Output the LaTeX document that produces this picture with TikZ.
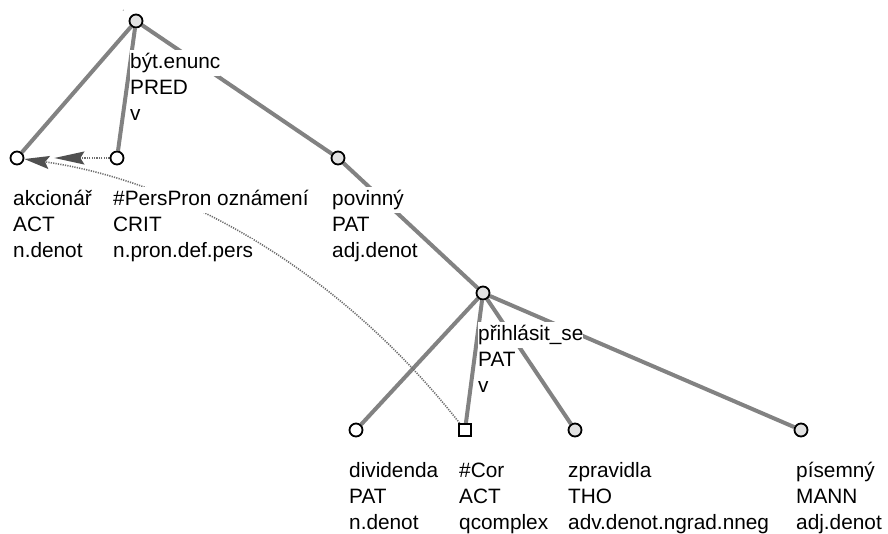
\documentclass[tikz,border=0pt]{standalone}
\usepackage{fontspec}
\setmainfont{Liberation Sans}
\usetikzlibrary{arrows.meta,backgrounds}
\setlength{\fboxsep}{0pt}
\newcommand{\lbox}[1]{\colorbox{white}{\strut #1}}
\definecolor{edgegray}{HTML}{828282}
\definecolor{nodegray}{HTML}{E2E2E2}
\definecolor{tipgray}{HTML}{505050}
\definecolor{corefgray}{HTML}{6E6E6E}
\tikzset{
  tnode/.style={circle, draw=black, line width=1.8pt, fill=white, minimum size=13pt, inner sep=0pt},
  tnodeg/.style={tnode, fill=nodegray},
  tsquare/.style={rectangle, draw=black, line width=1.8pt, fill=white, minimum size=12pt, inner sep=0pt},
  tedge/.style={draw=edgegray, line width=4pt},
  coref/.style={draw=corefgray, line width=1.6pt, dash pattern=on 1.2pt off 1.2pt},
  tlabel/.style={anchor=north west, inner sep=0pt, align=left, font=\fontsize{20.8}{26}\selectfont},
}
\begin{document}
\begin{tikzpicture}[x=1pt, y=-1pt]
\useasboundingbox (0,0) rectangle (888,533);
% tree nodes
\node[tnodeg] (root) at (136,21) {};
\node[tnode] (akc) at (17,158) {};
\node[tnode] (pers) at (117,158) {};
\node[tnodeg] (pov) at (338,158) {};
\node[tnodeg] (prih) at (483,293) {};
\node[tnode] (div) at (356,430) {};
\node[tsquare] (cor) at (465,430) {};
\node[tnodeg] (zpr) at (575,430) {};
\node[tnodeg] (pis) at (801,430) {};
\coordinate (top) at (123,10);
% edges and coreference, behind the labels
\begin{pgfonlayer}{background}
\draw[draw=edgegray, line width=1pt, shorten >=9pt] (top) -- (root);
\draw[tedge] (root) -- (akc);
\draw[tedge] (root) -- (pers);
\draw[tedge] (root) -- (pov);
\draw[tedge] (pov) -- (prih);
\draw[tedge] (prih) -- (div);
\draw[tedge] (prih) -- (cor);
\draw[tedge] (prih) -- (zpr);
\draw[tedge] (prih) -- (pis);
\draw[coref, shorten >=30pt, -{Stealth[length=30pt, width=13pt, inset=4pt, color=tipgray]}] (pers) -- (akc);
\draw[coref, -{Stealth[length=25pt, width=13pt, inset=4pt, color=tipgray]}] (cor) .. controls (335,265) and (175,180) .. (akc);
\end{pgfonlayer}
% labels
\node[tlabel] (root-l) at (130,50) {\lbox{být.enunc}\\ \lbox{PRED}\\ \lbox{v}};
\node[tlabel] (akc-l) at (13,187) {\lbox{akcionář}\\ \lbox{ACT}\\ \lbox{n.denot}};
\node[tlabel] (pers-l) at (113,187) {\lbox{\#PersPron oznámení}\\ \lbox{CRIT}\\ \lbox{n.pron.def.pers}};
\node[tlabel] (pov-l) at (332,187) {\lbox{povinný}\\ \lbox{PAT}\\ \lbox{adj.denot}};
\node[tlabel] (prih-l) at (478,322) {\lbox{přihlásit\_se}\\ \lbox{PAT}\\ \lbox{v}};
\node[tlabel] (div-l) at (349,459) {\lbox{dividenda}\\ \lbox{PAT}\\ \lbox{n.denot}};
\node[tlabel] (cor-l) at (459,459) {\lbox{\#Cor}\\ \lbox{ACT}\\ \lbox{qcomplex}};
\node[tlabel] (zpr-l) at (568,459) {\lbox{zpravidla}\\ \lbox{THO}\\ \lbox{adv.denot.ngrad.nneg}};
\node[tlabel] (pis-l) at (796,459) {\lbox{písemný}\\ \lbox{MANN}\\ \lbox{adj.denot}};
\end{tikzpicture}
\end{document}
